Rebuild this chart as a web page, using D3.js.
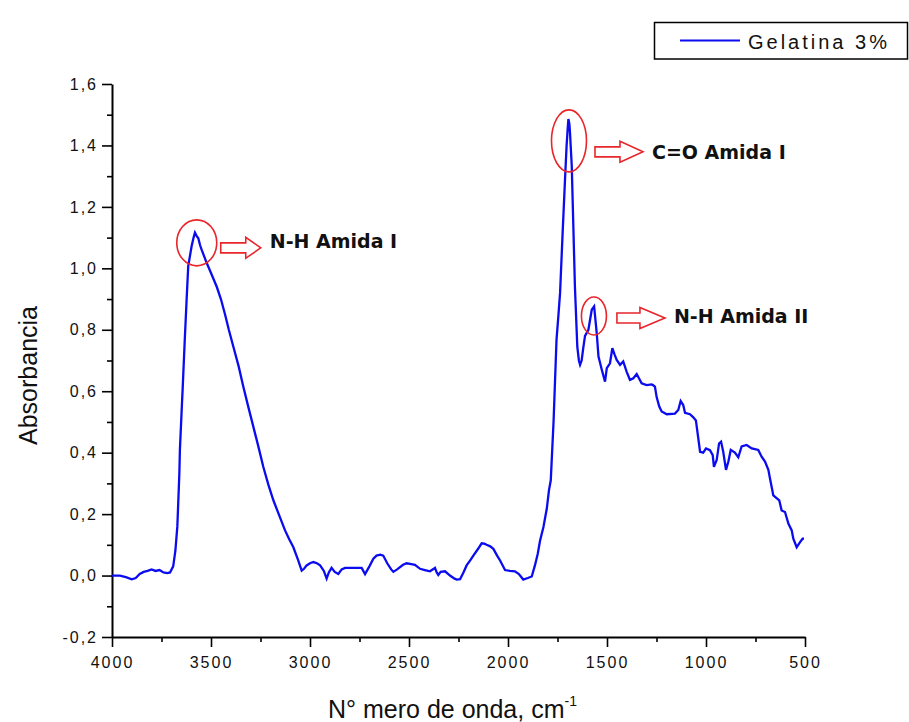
<!DOCTYPE html>
<html>
<head>
<meta charset="utf-8">
<script src="https://cdn.jsdelivr.net/npm/d3@7/dist/d3.min.js"></script>
<style>
  html, body { margin: 0; padding: 0; background: #fff; }
  svg { display: block; }
</style>
</head>
<body>
<svg id="chart" width="909" height="722"></svg>
<script>
// FTIR spectrum of a 3% gelatin film
const wavenumber = [
  4000, 3960, 3930, 3900, 3880, 3860, 3840, 3820, 3800, 3780, 3760, 3740, 3720, 3707,
  3691, 3680, 3670, 3660, 3657, 3648, 3643, 3633, 3623, 3615, 3598, 3588, 3581, 3572,
  3564, 3555, 3547, 3522, 3500, 3471, 3450, 3429, 3410, 3387, 3360, 3337, 3310, 3286,
  3260, 3236, 3210, 3185, 3155, 3126, 3105, 3084, 3060, 3042, 3030, 3017, 3000, 2983,
  2965, 2949, 2930, 2916, 2905, 2891, 2875, 2857, 2840, 2823, 2780, 2739, 2722, 2700,
  2680, 2664, 2645, 2630, 2610, 2590, 2579, 2560, 2530, 2512, 2495, 2470, 2444, 2420,
  2394, 2375, 2369, 2360, 2352, 2340, 2318, 2300, 2293, 2270, 2259, 2242, 2225, 2209,
  2190, 2175, 2150, 2133, 2120, 2108, 2090, 2074, 2055, 2040, 2015, 1990, 1965, 1945,
  1923, 1900, 1880, 1864, 1850, 1838, 1821, 1804, 1793, 1784, 1770, 1755, 1745, 1737,
  1724, 1712, 1704, 1698, 1695, 1690, 1687, 1678, 1670, 1662, 1650, 1642, 1636, 1628,
  1620, 1611, 1594, 1577, 1565, 1552, 1543, 1526, 1510, 1501, 1485, 1473, 1462, 1451,
  1434, 1418, 1401, 1384, 1367, 1350, 1325, 1300, 1275, 1268, 1258, 1249, 1236, 1224,
  1198, 1157, 1140, 1128, 1115, 1106, 1081, 1064, 1051, 1039, 1030, 1014, 1000, 980,
  966, 960, 946, 934, 924, 913, 899, 887, 875, 854, 837, 820, 795, 769,
  736, 719, 702, 685, 677, 660, 630, 618, 601, 584, 567, 559, 542, 525,
  512, 505
];
const absorbance = [
  0.000, 0.000, -0.005, -0.012, -0.008, 0.005, 0.012, 0.015, 0.020, 0.015, 0.018, 0.010, 0.008, 0.010,
  0.030, 0.080, 0.160, 0.330, 0.410, 0.540, 0.610, 0.760, 0.900, 1.007, 1.072, 1.100, 1.116, 1.105,
  1.098, 1.075, 1.060, 1.018, 0.985, 0.940, 0.900, 0.850, 0.800, 0.745, 0.680, 0.615, 0.545, 0.484,
  0.418, 0.354, 0.295, 0.245, 0.195, 0.147, 0.118, 0.092, 0.050, 0.016, 0.022, 0.033, 0.040, 0.044,
  0.040, 0.033, 0.015, -0.010, 0.010, 0.025, 0.012, 0.005, 0.020, 0.025, 0.025, 0.025, 0.005, 0.030,
  0.055, 0.065, 0.068, 0.065, 0.040, 0.020, 0.012, 0.020, 0.035, 0.040, 0.038, 0.035, 0.022, 0.018,
  0.014, 0.022, 0.025, 0.010, 0.002, 0.012, 0.014, 0.004, 0.000, -0.010, -0.013, -0.012, 0.010, 0.033,
  0.050, 0.065, 0.088, 0.105, 0.104, 0.100, 0.095, 0.087, 0.065, 0.049, 0.018, 0.015, 0.014, 0.005,
  -0.013, -0.008, -0.003, 0.033, 0.070, 0.114, 0.158, 0.218, 0.278, 0.310, 0.500, 0.767, 0.850, 0.920,
  1.117, 1.290, 1.400, 1.460, 1.486, 1.470, 1.443, 1.333, 1.137, 0.940, 0.745, 0.700, 0.686, 0.700,
  0.740, 0.780, 0.800, 0.865, 0.876, 0.790, 0.713, 0.669, 0.631, 0.675, 0.691, 0.740, 0.720, 0.702,
  0.686, 0.697, 0.664, 0.637, 0.642, 0.656, 0.626, 0.620, 0.622, 0.620, 0.615, 0.580, 0.550, 0.534,
  0.525, 0.527, 0.539, 0.568, 0.555, 0.530, 0.525, 0.515, 0.505, 0.447, 0.403, 0.400, 0.414, 0.408,
  0.392, 0.354, 0.376, 0.430, 0.436, 0.403, 0.344, 0.371, 0.409, 0.400, 0.385, 0.420, 0.425, 0.414,
  0.409, 0.387, 0.371, 0.344, 0.317, 0.261, 0.245, 0.212, 0.207, 0.169, 0.147, 0.120, 0.092, 0.109,
  0.120, 0.120
];

const xTicks = [4000, 3500, 3000, 2500, 2000, 1500, 1000, 500];
const yTicks = [-0.2, 0.0, 0.2, 0.4, 0.6, 0.8, 1.0, 1.2, 1.4, 1.6];
const seriesName = "Gelatina 3%";

// Band assignments: peak position (wavenumber, absorbance) and label
const bandWavenumber = [3572, 1692, 1566];
const bandAbsorbance = [1.083, 1.415, 0.845];
const bandLabel = ["N-H Amida I", "C=O Amida I", "N-H Amida II"];

const svg = d3.select("#chart");
const blue = "#0b0bf0";
const red = "#e8262b";

const x = d3.scaleLinear().domain([4000, 500]).range([112, 805]);
const y = d3.scaleLinear().domain([-0.2, 1.6]).range([637, 84]);

const fmt = v => d3.format(".1f")(v).replace(".", ",").replace("−", "-");

// minor ticks halfway between majors
const xMinor = d3.range(3750, 500, -500);
const yMinor = d3.range(-0.1, 1.6, 0.2);

// x axis
const gx = svg.append("g").attr("transform", `translate(0,${y(-0.2)})`);
gx.call(d3.axisBottom(x).tickValues(xTicks).tickSize(10).tickSizeOuter(0).tickFormat(d3.format("d")));
gx.append("g").call(d3.axisBottom(x).tickValues(xMinor).tickSize(5).tickFormat(""))
  .select(".domain").remove();

// y axis
const gy = svg.append("g").attr("transform", `translate(${x(4000)},0)`);
gy.call(d3.axisLeft(y).tickValues(yTicks).tickSize(10).tickSizeOuter(0).tickFormat(fmt));
gy.append("g").call(d3.axisLeft(y).tickValues(yMinor).tickSize(5).tickFormat(""))
  .select(".domain").remove();

svg.selectAll(".domain").attr("stroke", "#000").attr("stroke-width", 2);
svg.selectAll(".tick line").attr("stroke", "#000").attr("stroke-width", 1.6);
svg.selectAll(".tick text")
  .attr("font-family", "'Liberation Sans', Arial, sans-serif")
  .attr("font-size", 16)
  .attr("letter-spacing", "2px")
  .attr("fill", "#111");
gx.selectAll(".tick text").attr("dy", "1.1em");
gy.selectAll(".tick text").attr("dx", "-1px");

// spectrum
const pts = wavenumber.map((w, i) => [w, absorbance[i]]);
const line = d3.line().x(d => x(d[0])).y(d => y(d[1]));
svg.append("path")
  .datum(pts)
  .attr("d", line)
  .attr("fill", "none")
  .attr("stroke", blue)
  .attr("stroke-width", 2.3)
  .attr("stroke-linejoin", "miter");

// axis titles
svg.append("text")
  .attr("transform", `translate(37,${(y(-0.2) + y(1.6)) / 2 + 15}) rotate(-90)`)
  .attr("text-anchor", "middle")
  .attr("font-family", "'Liberation Sans', Arial, sans-serif")
  .attr("font-size", 25)
  .attr("fill", "#111")
  .text("Absorbancia");

const xt = svg.append("text")
  .attr("x", 328).attr("y", 718)
  .attr("font-family", "'Liberation Sans', Arial, sans-serif")
  .attr("font-size", 25)
  .attr("fill", "#111");
xt.append("tspan").text("N° mero de onda, cm");
xt.append("tspan").attr("dy", -12).attr("font-size", 14).text("-1");

// band annotations: ellipse around the peak, hollow arrow, bold label
const ellipseR = [[20, 23], [17.5, 31], [12.5, 19]];
const arrowGeom = [
  // [start offset from centre, length, head length, vertical offset, label baseline offset]
  [24, 40, 15, 5, 5],
  [26, 48, 23, 11, 18],
  [23, 48, 25, 2, 7]
];
bandWavenumber.forEach((w, i) => {
  const cx = x(w), cy = y(bandAbsorbance[i]);
  const [rx, ry] = ellipseR[i];
  const [off, len, head, dyA, dyT] = arrowGeom[i];
  svg.append("ellipse")
    .attr("cx", cx).attr("cy", cy).attr("rx", rx).attr("ry", ry)
    .attr("fill", "none").attr("stroke", red).attr("stroke-width", 1.6);
  const x0 = cx + off, x1 = x0 + len, xh = x1 - head, ay = cy + dyA;
  const sh = 5, hh = 10.5;
  svg.append("polygon")
    .attr("points", [
      [x0, ay - sh], [xh, ay - sh], [xh, ay - hh], [x1, ay],
      [xh, ay + hh], [xh, ay + sh], [x0, ay + sh]
    ].map(p => p.join(",")).join(" "))
    .attr("fill", "#fff").attr("stroke", red).attr("stroke-width", 1.6);
  svg.append("text")
    .attr("x", x1 + 9).attr("y", cy + dyT)
    .attr("font-family", "'DejaVu Sans', Verdana, sans-serif")
    .attr("font-weight", "bold")
    .attr("font-size", 19)
    .attr("fill", "#111")
    .text(bandLabel[i]);
});

// legend
const lg = svg.append("g");
lg.append("rect")
  .attr("x", 654.5).attr("y", 22.5).attr("width", 253).attr("height", 36.5)
  .attr("fill", "#fff").attr("stroke", "#000").attr("stroke-width", 1.5);
lg.append("line")
  .attr("x1", 680).attr("x2", 740).attr("y1", 40.5).attr("y2", 40.5)
  .attr("stroke", blue).attr("stroke-width", 2);
lg.append("text")
  .attr("x", 748).attr("y", 49)
  .attr("font-family", "'Liberation Sans', Arial, sans-serif")
  .attr("font-size", 20)
  .attr("letter-spacing", "3px")
  .attr("fill", "#111")
  .text(seriesName);
</script>
</body>
</html>
